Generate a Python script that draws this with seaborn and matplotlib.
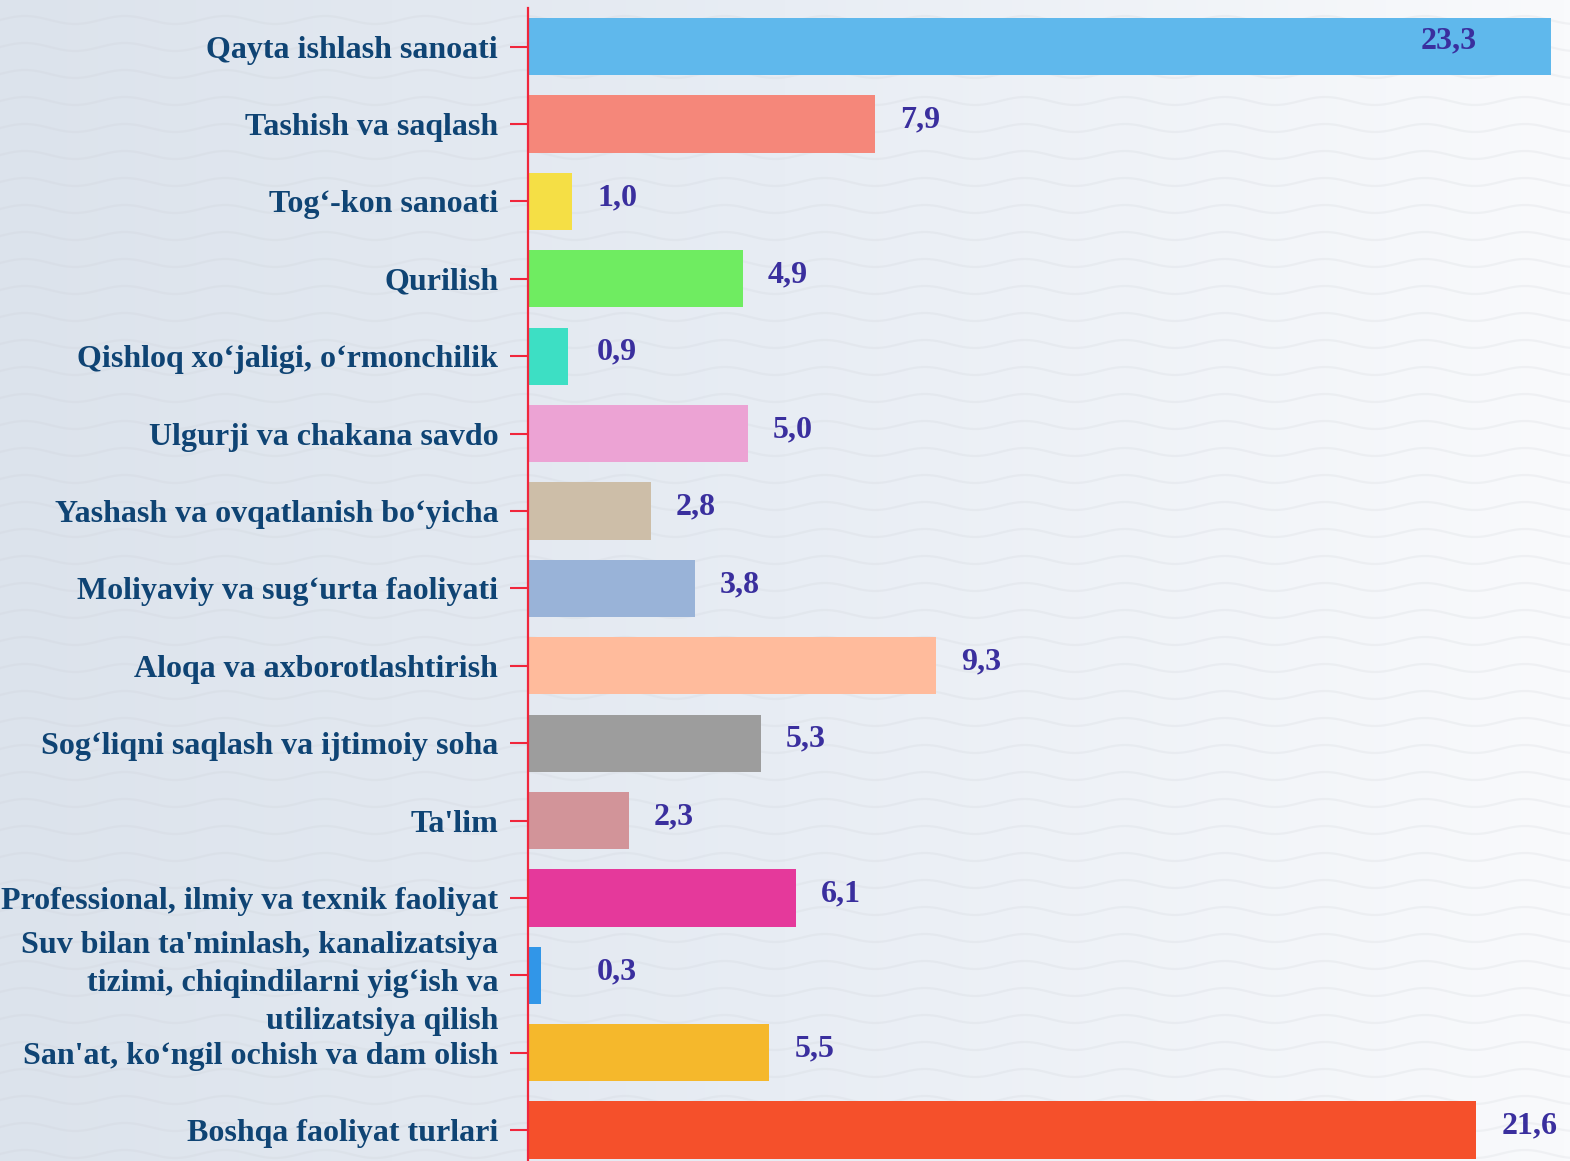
import seaborn as sns
import matplotlib.pyplot as plt
import numpy as np
import pandas as pd
from matplotlib.colors import LinearSegmentedColormap

categories = [
    'Qayta ishlash sanoati',
    'Tashish va saqlash',
    'Tog\u2018-kon sanoati',
    'Qurilish',
    'Qishloq xo\u2018jaligi, o\u2018rmonchilik',
    'Ulgurji va chakana savdo',
    'Yashash va ovqatlanish bo\u2018yicha',
    'Moliyaviy va sug\u2018urta faoliyati',
    'Aloqa va axborotlashtirish',
    'Sog\u2018liqni saqlash va ijtimoiy soha',
    "Ta'lim",
    'Professional, ilmiy va texnik faoliyat',
    "Suv bilan ta'minlash, kanalizatsiya\ntizimi, chiqindilarni yig\u2018ish va\nutilizatsiya qilish",
    "San'at, ko\u2018ngil ochish va dam olish",
    'Boshqa faoliyat turlari',
]
values = [23.3, 7.9, 1.0, 4.9, 0.9, 5.0, 2.8, 3.8, 9.3, 5.3, 2.3, 6.1, 0.3, 5.5, 21.6]
colors = ['#5fb8ec', '#f5877a', '#f5df45', '#6fec61', '#3ddfc4', '#eca3d4',
          '#cdbea8', '#99b3d8', '#ffbb9c', '#9d9d9d', '#d29499', '#e5399b',
          '#3196e8', '#f5b82c', '#f5502b']

df = pd.DataFrame({'sector': categories, 'share': values})

sns.set_style('white')
plt.rcParams['font.family'] = ['Liberation Serif', 'DejaVu Serif']
plt.rcParams['font.weight'] = 'bold'

fig = plt.figure(figsize=(15.70, 11.61), dpi=100)

# background: light gradient with faint waves
bg = fig.add_axes([0, 0, 1, 1], zorder=-1)
grad = np.linspace(0, 1, 256)[None, :]
cmap = LinearSegmentedColormap.from_list('bg', ['#dce3ec', '#e8edf4', '#f9fafc'])
bg.imshow(grad, aspect='auto', cmap=cmap, extent=[0, 1570, 0, 1161])
xs = np.linspace(0, 1570, 800)
for y0 in np.arange(-20, 1200, 27):
    bg.plot(xs, y0 + 4 * np.sin(xs / 100 * 2 * np.pi), color='#c8ccd2',
            lw=1.6, alpha=0.18)
bg.set_xlim(0, 1570)
bg.set_ylim(0, 1161)
bg.axis('off')

ax = fig.add_axes([528 / 1570, 0, 1 - 528 / 1570, 1 - 8 / 1161])
ax.patch.set_alpha(0)
sns.barplot(data=df, x='share', y='sector', hue='sector', palette=colors,
            orient='h', width=0.74, saturation=1, legend=False,
            linewidth=0, ax=ax)

px = 43.9  # pixels per unit
ax.set_xlim(0, (1570 - 528) / px)
ax.set_ylim(14.4, -0.5)
ax.set_xlabel('')
ax.set_ylabel('')
ax.set_xticks([])

for s in ['top', 'right', 'bottom']:
    ax.spines[s].set_visible(False)
ax.spines['left'].set_color('#f0263c')
ax.spines['left'].set_linewidth(1.6)
ax.tick_params(axis='y', colors='#f0263c', length=13, width=1.5, pad=8.5,
               left=True)
for t in ax.get_yticklabels():
    t.set_color('#0f4474')
    t.set_fontsize(23)
    t.set_fontweight('bold')
    t.set_linespacing(1.42)

xmax = ax.get_xlim()[1]
for i, v in enumerate(values):
    text = f'{v:.1f}'.replace('.', ',')
    x = max(v + 25 / px, 69 / px)
    if x + 60 / px > xmax:
        ax.text(v - 74 / px, i - 0.08, text, ha='right', va='center',
                fontsize=23, fontweight='bold', color='#3a2f9e')
    else:
        ax.text(x, i - 0.05, text, ha='left', va='center',
                fontsize=23, fontweight='bold', color='#3a2f9e')

fig.savefig('out.png', dpi=100)
